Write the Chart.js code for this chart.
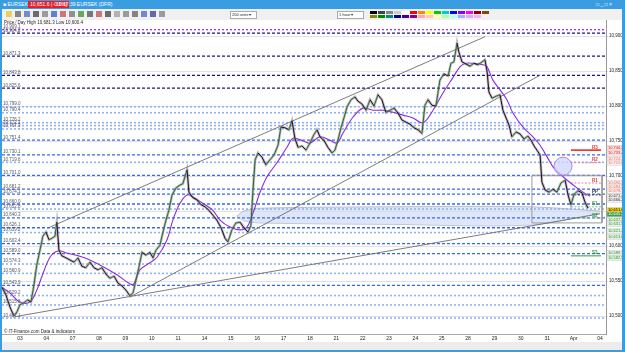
<!DOCTYPE html>
<html><head><meta charset="utf-8">
<script src="https://cdn.jsdelivr.net/npm/chart.js@4.4.1/dist/chart.umd.min.js"></script>
<style>
html,body{margin:0;padding:0;width:625px;height:352px;overflow:hidden;background:#3b9de1;font-family:"Liberation Sans",Arial,sans-serif;}
.abs{position:absolute;}
#title{left:0;top:0;width:625px;height:9px;background:#3b9de1;color:#fff;font-size:5px;line-height:9px;}
#toolbar{left:2px;top:9px;width:620px;height:11px;background:#f0f0f0;}
#wrap{left:2px;top:20px;width:620px;height:322px;background:#fff;}
#bottom{left:2px;top:342px;width:620px;height:8px;background:#ececec;}
.ic{position:absolute;top:2px;width:6px;height:6px;}
.dd{position:absolute;top:2px;height:6px;background:#fff;border:1px solid #aaa;font-size:4px;line-height:6px;padding-left:1px;color:#222;}
.pal{position:absolute;width:3px;height:3px;}
.txt{position:absolute;font-size:4.5px;color:#222;white-space:nowrap;}
</style>
</head><body>
<div id="title" class="abs">
  <span class="abs" style="left:3px;top:0;">&#9632; EURSEK</span>
  <span class="abs" style="left:28px;top:1px;height:7px;line-height:7px;background:#e0202a;padding:0 2px;">10,651.6 (-0.1%)</span>
  <span class="abs" style="left:56px;top:0;">16:17:39 EURSEK (DFR)</span>
  <span class="abs" style="left:596px;top:0;">&#9633; _ &#9633; &#215;</span>
</div>
<div id="toolbar" class="abs"></div>
<div id="wrap" class="abs"><canvas id="c" width="620" height="322"></canvas>
  <div class="txt" style="left:2px;top:0px;">Price &#8260; Day High 10,681.3 Low 10,600.4</div>
  <div class="txt" style="left:2px;top:309px;">&#169; IT-Finance.com Data &amp; indicators</div>
</div>
<div id="bottom" class="abs"></div>
<script>
// ---------- DATA ----------
const dayLabels = ['03','04','07','08','09','10','11','14','15','16','17','18','21','22','23','24','25','28','29','30','31','Apr','04'];
const priceTicks = [10500,10550,10600,10650,10700,10750,10800,10850,10900];

// close path (day index, price)
const priceDays = [-0.68,-0.53,-0.38,-0.23,-0.11,0,0.15,0.30,0.42,0.53,0.64,0.76,0.87,0.99,1.10,1.21,1.33,1.40,1.48,1.59,1.75,1.90,2.05,2.20,2.35,2.50,2.66,2.81,2.96,3.11,3.26,3.41,3.57,3.72,3.87,4.02,4.17,4.29,4.40,4.51,4.63,4.78,4.93,5.05,5.16,5.31,5.42,5.54,5.65,5.77,5.92,6.07,6.18,6.34,6.41,6.56,6.71,6.87,7.02,7.17,7.32,7.47,7.63,7.78,7.89,8.04,8.19,8.35,8.50,8.65,8.76,8.84,8.92,9.03,9.18,9.33,9.48,9.64,9.79,9.90,10.05,10.20,10.32,10.43,10.55,10.70,10.85,11.00,11.15,11.27,11.38,11.53,11.68,11.84,11.95,12.06,12.18,12.29,12.41,12.56,12.71,12.82,12.97,13.13,13.28,13.43,13.58,13.73,13.88,14.04,14.19,14.34,14.49,14.64,14.80,14.95,15.10,15.25,15.36,15.48,15.63,15.78,15.93,16.08,16.24,16.35,16.46,16.58,16.65,16.77,16.92,17.07,17.22,17.37,17.53,17.64,17.72,17.79,17.91,18.06,18.21,18.32,18.44,18.55,18.66,18.82,18.97,19.12,19.27,19.39,19.50,19.61,19.73,19.80,19.92,20.07,20.22,20.37,20.52,20.68,20.79,20.90,21.02,21.17,21.32,21.43,21.55];
const priceValues = [10541,10530,10513,10500,10506,10516,10519,10523,10520,10544,10573,10594,10614,10620,10609,10611,10614,10634,10594,10586,10583,10580,10577,10583,10571,10569,10577,10569,10566,10569,10560,10554,10557,10547,10543,10537,10529,10533,10551,10569,10591,10587,10591,10583,10594,10601,10619,10637,10651,10673,10683,10687,10689,10709,10677,10669,10666,10659,10656,10651,10644,10637,10626,10611,10606,10623,10633,10634,10626,10620,10629,10680,10723,10733,10727,10716,10723,10730,10744,10770,10769,10766,10779,10754,10741,10743,10737,10747,10759,10766,10756,10751,10741,10733,10737,10751,10769,10783,10799,10809,10813,10807,10803,10794,10809,10800,10816,10809,10791,10794,10797,10790,10780,10777,10774,10769,10766,10761,10801,10809,10801,10800,10837,10846,10843,10861,10863,10890,10877,10863,10860,10857,10861,10859,10863,10866,10849,10820,10811,10814,10816,10794,10783,10773,10756,10763,10760,10753,10757,10751,10743,10737,10730,10691,10680,10677,10681,10677,10690,10694,10673,10659,10674,10679,10676,10663,10654];

// moving average (purple)
const maDays = [-0.68,-0.38,0,0.38,0.64,0.83,1.14,1.44,1.78,2.39,3.03,3.68,4.17,4.32,4.55,4.93,5.20,5.58,5.80,6.07,6.34,6.56,6.94,7.32,7.59,7.97,8.35,8.61,8.84,9.10,9.37,9.75,10.13,10.36,10.74,11.00,11.38,11.76,12.03,12.25,12.63,13.01,13.39,13.77,14.15,14.53,14.91,15.29,15.67,16.05,16.43,16.69,16.92,17.19,17.56,17.72,17.94,18.21,18.47,18.70,19.08,19.46,19.73,20.00,20.22,20.60,21.13,21.36,21.62];
const maValues = [10541,10533,10520,10520,10537,10556,10584,10593,10590,10584,10573,10559,10546,10546,10566,10576,10584,10609,10637,10661,10673,10670,10661,10651,10637,10627,10623,10627,10647,10676,10699,10719,10741,10754,10750,10747,10756,10751,10747,10761,10784,10797,10794,10794,10791,10787,10783,10776,10794,10819,10841,10856,10861,10861,10859,10856,10837,10823,10809,10790,10770,10756,10744,10727,10713,10699,10683,10677,10671];

// horizontal levels
const purpleLevels = [10909.1];
const navyLevels = [10904.2, 10871.3, 10843.8, 10825.6];
const lightLevels = [10799.0, 10790.4, 10776.2, 10772.1, 10767.3, 10719.6, 10652.8, 10619.2, 10574.3, 10560.9, 10529.2, 10515.8, 10497.1];
const blueLevels = [10751.4, 10730.1, 10701.0, 10681.2, 10674.1, 10660.0, 10640.3, 10626.1, 10603.4, 10589.0, 10543.9];

// trendlines: [day0, price0, day1, price1]
const trendUpper = [1.14, 10627, 17.64, 10899];
const trendMiddle = [4.17, 10527, 19.73, 10844];
const trendLong = [-0.19, 10499, 22.0, 10646];

// shaded zone
const zoneTopDays = [8.23, 8.5, 9.1, 14.0, 19.35, 22.0];
const zoneTopValues = [10643, 10650, 10654, 10656, 10656, 10650];
const zoneBotDays = [8.23, 8.5, 9.1, 14.0, 19.35, 22.0];
const zoneBotValues = [10643, 10636, 10633, 10631, 10630, 10647];

// box
const boxDays = [19.42, 22.08];
const boxPrices = [10633, 10701];

// pivot levels
const pivotNames = ['R3','R2','R1','PP','S1','S2','S3'];
const pivotLevels = [10737, 10719, 10690, 10673, 10656, 10640, 10586];
const pivotDays = [20.9, 22.04];

// circle marker
const circleDay = [20.6];
const circlePrice = [10714];

// right-axis tags
const tagPrices = [10740.2, 10733.4, 10724.1, 10719.0, 10690.3, 10684.2, 10678.1, 10671.4, 10666.2, 10651.6, 10645.3, 10637.2, 10631.5, 10621.4, 10613.0, 10589.7, 10582.5];
const tagKinds = ['red','red','sal','sal','sal','sal','sal','gray','gray','cur','grn','lg','lg','lg','lg','lg','lg'];

// ---------- BUILD ----------
const XMIN = -0.68, XMAX = 22.23, YMIN = 10474.3, YMAX = 10922.9;
const pts = (xs, ys) => xs.map((x, i) => ({x, y: ys[i]}));
const datasets = [];

datasets.push({data: pts(priceDays, priceValues), borderWidth: 1, pointRadius: 0, order: 0,
  segment: {borderColor: c => c.p1.parsed.y >= c.p0.parsed.y ? '#2c6a2c' : '#2a0a28'}, borderColor: '#222'});
datasets.push({data: pts(priceDays, priceValues), borderColor: 'rgba(130,130,130,0.55)', borderWidth: 2.6, pointRadius: 0, order: 1});
datasets.push({data: pts(circleDay, circlePrice), showLine: false, pointRadius: 9, pointBackgroundColor: 'rgba(205,212,252,0.75)', pointBorderColor: '#b483ea', pointBorderWidth: 1, order: 0.5});
datasets.push({data: pts(maDays, maValues), borderColor: '#8a2be2', borderWidth: 1.1, pointRadius: 0, tension: 0.35, order: 2});
[trendUpper, trendMiddle, trendLong].forEach(t => datasets.push({data: [{x: t[0], y: t[1]}, {x: t[2], y: t[3]}], borderColor: '#6e6e6e', borderWidth: 0.9, pointRadius: 0, order: 3}));
datasets.push({data: [{x: boxDays[0], y: boxPrices[1]}, {x: boxDays[1], y: boxPrices[1]}, {x: boxDays[1], y: boxPrices[0]}, {x: boxDays[0], y: boxPrices[0]}, {x: boxDays[0], y: boxPrices[1]}], borderColor: '#9a9a9a', borderWidth: 1, pointRadius: 0, order: 3});
pivotLevels.forEach((lv, i) => {
  const n = pivotNames[i];
  let col = '#f08080', dash = [2, 1.5], w = 1;
  if (n === 'R3') { col = '#ee1c1c'; dash = []; w = 1.5; }
  if (n === 'PP') { col = '#333'; }
  if (n[0] === 'S') { col = '#7cc47c'; }
  if (n === 'S3') { dash = []; w = 1.3; col = '#5cb85c'; }
  datasets.push({data: [{x: pivotDays[0], y: lv}, {x: pivotDays[1], y: lv}], borderColor: col, borderDash: dash, borderWidth: w, pointRadius: 0, order: 3});
});
datasets.push({data: pts(zoneTopDays, zoneTopValues), borderColor: '#a9b0c0', borderWidth: 0.8, pointRadius: 0, tension: 0.3, fill: '+1', backgroundColor: 'rgba(206,216,246,0.65)', order: 6});
datasets.push({data: pts(zoneBotDays, zoneBotValues), borderColor: '#a9b0c0', borderWidth: 0.8, pointRadius: 0, tension: 0.3, order: 6});
const levelStyle = [];
function addLevels(arr, col, dash, w) {
  arr.forEach(lv => { datasets.push({data: [{x: XMIN, y: lv}, {x: XMAX, y: lv}], borderColor: col, borderDash: dash, borderWidth: w, pointRadius: 0, order: 5}); levelStyle.push({lv, col}); });
}
addLevels(purpleLevels, '#a43ee6', [2, 2], 1.4);
addLevels(navyLevels, '#15158a', [3, 2], 1.4);
addLevels(lightLevels, '#8fb3f3', [2, 2], 1.6);
addLevels(blueLevels, '#3469ea', [3, 2], 1.3);

const fmt = v => v.toLocaleString('en-US', {minimumFractionDigits: 1, maximumFractionDigits: 1});

const extras = {
  id: 'extras',
  afterDatasetsDraw(chart) {
    const {ctx, chartArea: a, scales: {x, y}} = chart;
    ctx.save();
    ctx.font = '4.5px "Liberation Sans", Arial';
    ctx.textBaseline = 'bottom';
    ctx.fillStyle = '#556';
    levelStyle.forEach(s => { ctx.fillText(fmt(s.lv), a.left + 1, y.getPixelForValue(s.lv) - 0.5); });
    ctx.font = 'bold 4.5px "Liberation Sans", Arial';
    pivotLevels.forEach((lv, i) => {
      const n = pivotNames[i];
      ctx.fillStyle = n[0] === 'R' ? '#e04040' : (n === 'PP' ? '#333' : '#3a9a3a');
      ctx.fillText(n, x.getPixelForValue(pivotDays[1]) - 9, y.getPixelForValue(lv) - 0.5);
    });
    ctx.restore();
  },
  afterDraw(chart) {
    const {ctx, chartArea: a, scales: {y}} = chart;
    ctx.save();
    ctx.font = '4px "Liberation Sans", Arial';
    ctx.textBaseline = 'middle';
    const sty = {red: ['#ffe4e4', '#e01818'], sal: ['#fff0ee', '#e87060'], gray: ['#f2f2f2', '#333'], cur: ['#ffd400', '#000'], grn: ['#3f9f3f', '#fff'], lg: ['#e8f6e8', '#2e8b2e']};
    tagPrices.forEach((p, i) => {
      const py = y.getPixelForValue(p);
      const [bg, fg] = sty[tagKinds[i]];
      ctx.fillStyle = bg; ctx.fillRect(a.right + 1, py - 2.5, 15, 5);
      ctx.strokeStyle = '#ccc'; ctx.lineWidth = 0.5; ctx.strokeRect(a.right + 1, py - 2.5, 15, 5);
      ctx.fillStyle = fg; ctx.fillText(fmt(p), a.right + 2, py);
    });
    ctx.restore();
  }
};

new Chart(document.getElementById('c'), {
  type: 'line',
  data: {datasets},
  options: {
    responsive: false, animation: false, devicePixelRatio: 1,
    layout: {padding: 0, autoPadding: false},
    plugins: {legend: {display: false}, tooltip: {enabled: false}, title: {display: false}},
    scales: {
      x: {type: 'linear', min: XMIN, max: XMAX,
        afterBuildTicks: s => { s.ticks = dayLabels.map((_, i) => ({value: i})); },
        afterFit: s => { s.height = 8; s.paddingLeft = 0; s.paddingRight = 0; },
        grid: {display: false, drawTicks: false}, border: {color: '#aaa'},
        ticks: {autoSkip: false, maxRotation: 0, padding: 2, font: {size: 5, family: 'Liberation Sans'}, color: '#222', callback: v => dayLabels[Math.round(v)] ?? ''}},
      y: {type: 'linear', position: 'right', min: YMIN, max: YMAX,
        afterBuildTicks: s => { s.ticks = priceTicks.map(v => ({value: v})); },
        afterFit: s => { s.width = 16; s.paddingTop = 0; s.paddingBottom = 0; },
        grid: {color: '#e2e2e2', drawTicks: true, tickLength: 2}, border: {color: '#999'},
        ticks: {padding: 1, font: {size: 4.5, family: 'Liberation Sans'}, color: '#222', callback: v => v.toLocaleString('en-US')}}
    }
  },
  plugins: [extras]
});

// toolbar decoration
const tb = document.getElementById('toolbar');
const icCols = ['#e8c020','#555','#4060c0','#333','#777','#2050d0','#c04040','#666','#2a8a2a','#444','#c04040','#333','#999','#777','#555','#3a5ad0','#2a2a9a','#777'];
icCols.forEach((c, i) => { const d = document.createElement('div'); d.className = 'ic'; d.style.left = (4 + i * 9) + 'px'; d.style.background = c; d.style.opacity = 0.7; tb.appendChild(d); });
const pal = ['#000','#444','#888','#ccc','#fff','#f00','#f80','#ff0','#0c0','#0cc','#00f','#80f','#f0f','#800','#840','#880','#080','#088','#008','#408','#808','#faa','#fca','#ffa','#afa','#aff','#aaf','#daf','#faf'];
pal.forEach((c, i) => { const d = document.createElement('div'); d.className = 'pal'; d.style.left = (368 + (i % 15) * 8) + 'px'; d.style.top = (2 + Math.floor(i / 15) * 4) + 'px'; d.style.width = '7px'; d.style.background = c; tb.appendChild(d); });
[['200 units', 228, 24], ['1 hour', 335, 24]].forEach(([t, l, w]) => { const d = document.createElement('div'); d.className = 'dd'; d.style.left = l + 'px'; d.style.width = w + 'px'; d.textContent = t + ' \u25BE'; tb.appendChild(d); });
</script>
</body></html>
